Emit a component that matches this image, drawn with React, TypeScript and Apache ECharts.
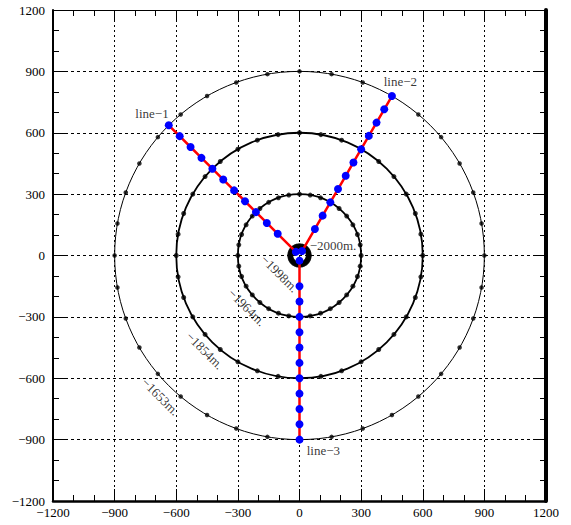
import React, { useEffect, useRef } from "react";
import * as echarts from "echarts";

// ---- data ----
const axisMin = -1200;
const axisMax = 1200;
const axisStep = 300;

const contourDepths = ["−1998m.", "−1964m.", "−1854m.", "−1653m."];
const contourRadii = [45, 300, 600, 900];
const contourDotAngles = [
  0, 10, 20, 30, 40, 50, 60, 70, 80, 90, 100, 110, 120, 130, 140, 150, 160, 170,
  180, 190, 200, 210, 220, 230, 240, 250, 260, 270, 280, 290, 300, 310, 320, 330, 340, 350,
];
const centerDepth = "−2000m.";

const lineNames = ["line−1", "line−2", "line−3"];
const lineAngles = [135, 60, 270];
const lineRadii = [25, 150, 225, 300, 375, 450, 525, 600, 675, 750, 825, 900];

// label anchors (data units)
const contourLabelAt = [
  [-97, -88],
  [-256, -253],
  [-461, -465],
  [-677, -690],
];
const centerLabelAt = [163, 49];
const lineLabelAt = [
  [-718, 695],
  [491, 849],
  [116, -955],
];

const circleWidths = [1, 1.8, 1.8, 1];
const circleDotSizes = [6, 5, 5, 4.5];

const FONT = "Liberation Serif";

function polar(r: number, deg: number): [number, number] {
  const a = (deg * Math.PI) / 180;
  return [r * Math.cos(a), r * Math.sin(a)];
}

const fmt = (v: number) => String(v).replace("-", "−");

export default function App() {
  const ref = useRef<HTMLDivElement>(null);
  useEffect(() => {
    if (!ref.current) return;
    const chart = echarts.init(ref.current, undefined, { renderer: "svg" });

    const baseAxis = (pos: string, lineWidth: number, showLabel: boolean, splitLine: boolean, isX: boolean) => ({
      type: "value",
      min: axisMin,
      max: axisMax,
      interval: axisStep,
      position: pos,
      axisLine: { show: true, onZero: false, lineStyle: { color: "#000", width: lineWidth } },
      axisTick: { show: true, inside: true, length: 12, lineStyle: { color: "#000", width: 1 } },
      minorTick: { show: true, splitNumber: 3, length: 6, lineStyle: { color: "#000", width: 1 } },
      splitLine: {
        show: splitLine,
        lineStyle: { color: "#000", width: 1, type: isX ? [2, 3] : [3, 3] },
      },
      axisLabel: {
        show: showLabel,
        formatter: fmt,
        fontFamily: FONT,
        fontSize: 13,
        color: "#000",
        margin: isX ? 5 : 8,
      },
    });

    const series: any[] = [];

    // circles (outline)
    series.push({
      type: "custom",
      coordinateSystem: "cartesian2d",
      z: 2,
      silent: true,
      data: contourRadii.map((r, i) => [0, 0, r, i]),
      renderItem: (_p: any, api: any) => {
        const c = api.coord([0, 0]);
        const r = api.value(2);
        const i = api.value(3);
        const s = api.size([r, r]);
        return {
          type: "ellipse",
          shape: { cx: c[0], cy: c[1], rx: Math.abs(s[0]), ry: Math.abs(s[1]) },
          style: { fill: "none", stroke: "#000", lineWidth: circleWidths[i] },
        };
      },
    });

    // circle dots
    contourRadii.forEach((r, i) => {
      series.push({
        type: "scatter",
        z: 3,
        silent: true,
        symbol: "circle",
        symbolSize: circleDotSizes[i],
        itemStyle: { color: "#000" },
        data: contourDotAngles.map((a) => polar(r, a)),
      });
    });

    // lines
    lineAngles.forEach((ang, i) => {
      series.push({
        type: "line",
        name: lineNames[i],
        z: 5,
        silent: true,
        symbol: "circle",
        symbolSize: 8,
        showSymbol: true,
        itemStyle: { color: "#0000ff" },
        lineStyle: { color: "#ff0000", width: 2.5 },
        data: lineRadii.map((r) => polar(r, ang)),
      });
    });

    // texts
    const textData: any[] = [];
    contourDepths.forEach((d, i) => {
      textData.push({ value: contourLabelAt[i], name: d, label: { rotate: -45 } });
    });
    textData.push({ value: centerLabelAt, name: centerDepth });
    lineNames.forEach((n, i) => {
      textData.push({ value: lineLabelAt[i], name: n });
    });
    series.push({
      type: "scatter",
      z: 6,
      silent: true,
      symbolSize: 1,
      itemStyle: { color: "rgba(0,0,0,0)" },
      label: {
        show: true,
        position: "inside",
        formatter: (p: any) => p.name,
        fontFamily: FONT,
        fontSize: 13,
        color: "#000",
        align: "center",
        verticalAlign: "middle",
      },
      data: textData,
    });

    chart.setOption({
      animation: false,
      backgroundColor: "#fff",
      grid: { left: 53, right: 25, top: 10, bottom: 24, containLabel: false },
      xAxis: [baseAxis("bottom", 2.5, true, true, true), baseAxis("top", 1, false, false, true)],
      yAxis: [baseAxis("left", 2, true, true, false), baseAxis("right", 4, false, false, false)],
      series,
    });

    return () => chart.dispose();
  }, []);

  return (
    <div
      ref={ref}
      style={{ position: "absolute", left: 0, top: 0, width: 571, height: 525, background: "#fff" }}
    />
  );
}
